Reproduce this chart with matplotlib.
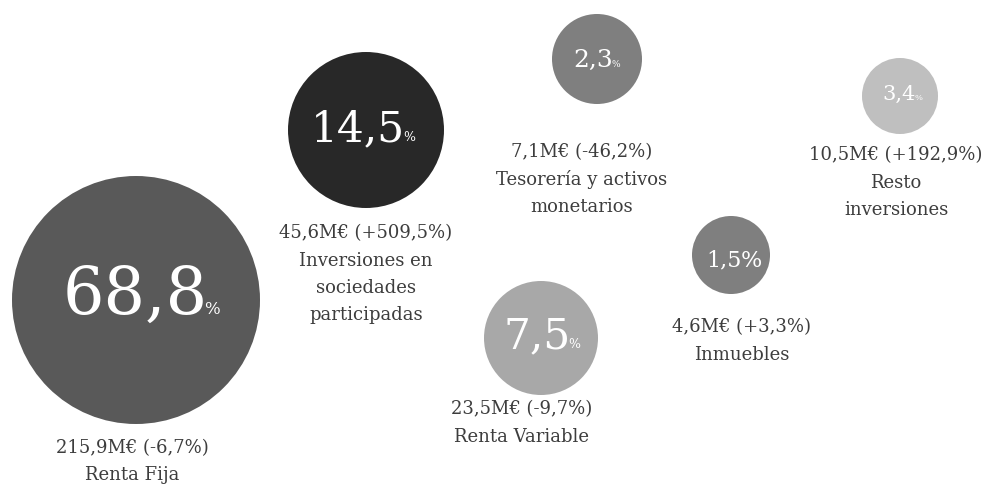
import matplotlib.pyplot as plt
from matplotlib.patches import Circle

# data
categories = ['Renta Fija', 'Inversiones en\nsociedades\nparticipadas', 'Tesorería y activos\nmonetarios',
              'Resto\ninversiones', 'Inmuebles', 'Renta Variable']
shares = ['68,8', '14,5', '2,3', '3,4', '1,5', '7,5']
amounts = ['215,9M€', '45,6M€', '7,1M€', '10,5M€', '4,6M€', '23,5M€']
changes = ['-6,7%', '+509,5%', '-46,2%', '+192,9%', '+3,3%', '-9,7%']

# layout (pixel coordinates)
cx = [136, 366, 597, 900, 731, 541]
cy = [300, 130, 59, 96, 255, 338]
radius = [124, 78, 45, 38, 39, 57]
colors = ['#595959', '#282828', '#7f7f7f', '#bfbfbf', '#7f7f7f', '#a8a8a8']
num_x = [141, 363, 597, 902, 734, 542]
num_y = [290, 126, 57.5, 92.5, 258.5, 333]
num_size = [47, 30.5, 18, 15, 16, 30.5]
pct_size = [12, 9, 6.5, 6, 16, 9]
lab_x = [132, 366, 582, 896, 742, 522]
lab_y = [448, 233, 152, 155, 327, 409]

FONT = 'DejaVu Serif'
TXT = '#3d3d3d'

fig = plt.figure(figsize=(9.81, 4.88), dpi=100)
ax = fig.add_axes([0, 0, 1, 1])
ax.set_xlim(0, 981)
ax.set_ylim(488, 0)
ax.axis('off')

for i in range(len(shares)):
    ax.add_patch(Circle((cx[i], cy[i]), radius[i], color=colors[i], lw=0))

fig.canvas.draw()
r = fig.canvas.get_renderer()
for i in range(len(shares)):
    t1 = ax.text(0, 0, shares[i], fontsize=num_size[i], family=FONT, color='white',
                 va='baseline')
    t2 = ax.text(0, 0, '%', fontsize=pct_size[i], family=FONT, color='white',
                 va='baseline')
    w1 = t1.get_window_extent(r).width - num_size[i] * 0.08
    w2 = t2.get_window_extent(r).width
    total = w1 + w2
    base = num_y[i] + num_size[i] * 100 / 72 * 0.729 / 2
    x0 = num_x[i] - total / 2
    t1.set_position((x0, base))
    t2.set_position((x0 + w1, base))

    lines = [amounts[i] + ' (' + changes[i] + ')'] + categories[i].split('\n')
    for j, s in enumerate(lines):
        ax.text(lab_x[i], lab_y[i] + j * 27.5, s, fontsize=13, family=FONT, color=TXT,
                ha='center', va='center')

fig.savefig('out.png', dpi=100, facecolor='white')
